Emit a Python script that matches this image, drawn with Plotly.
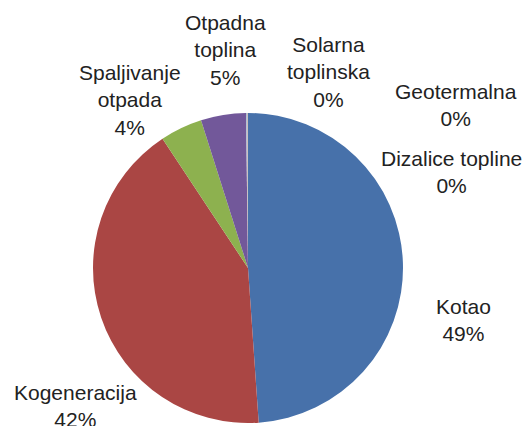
import plotly.graph_objects as go

labels = ["Kotao", "Kogeneracija", "Spaljivanje otpada", "Otpadna toplina",
          "Solarna toplinska", "Geotermalna", "Dizalice topline"]
label_lines = ["Kotao", "Kogeneracija", "Spaljivanje<br>otpada", "Otpadna<br>toplina",
               "Solarna<br>toplinska", "Geotermalna", "Dizalice topline"]
values = [48.9, 41.8, 4.4, 4.7, 0.1, 0.05, 0.05]
colors = ["#4771AA", "#AA4644", "#8DB14F", "#72589A", "#A9BCD0", "#E8924A", "#9DB2D6"]

# label placement (pixel centres in the 531x426 canvas)
label_pos = [(463, 320), (75, 406), (130, 100), (225, 50), (328, 72), (456, 105), (451, 172)]

W, H = 531, 426
OFF = 8  # page body margin offset
cx, cy, r = 248 - OFF, 268 - OFF, 155

total = sum(values)
fig = go.Figure(go.Pie(
    labels=labels, values=values, sort=False, direction="clockwise", rotation=0,
    marker=dict(colors=colors, line=dict(width=0)),
    textinfo="none", hoverinfo="label+percent", showlegend=False,
    domain=dict(x=[(cx - r) / W, (cx + r) / W], y=[(H - cy - r) / H, (H - cy + r) / H]),
))

for name, v, (px, py) in zip(label_lines, values, label_pos):
    pct = round(100 * v / total)
    fig.add_annotation(
        x=(px - OFF) / W, y=1 - (py - OFF) / H, xref="paper", yref="paper",
        text=f"{name}<br>{pct}%", showarrow=False,
        xanchor="center", yanchor="middle", align="center",
        font=dict(family="Liberation Sans, Arial", size=21, color="#222222"),
    )

fig.update_layout(
    width=W, height=H, margin=dict(l=0, r=0, t=0, b=0),
    paper_bgcolor="white", plot_bgcolor="white",
)
fig.write_html("out.html")
